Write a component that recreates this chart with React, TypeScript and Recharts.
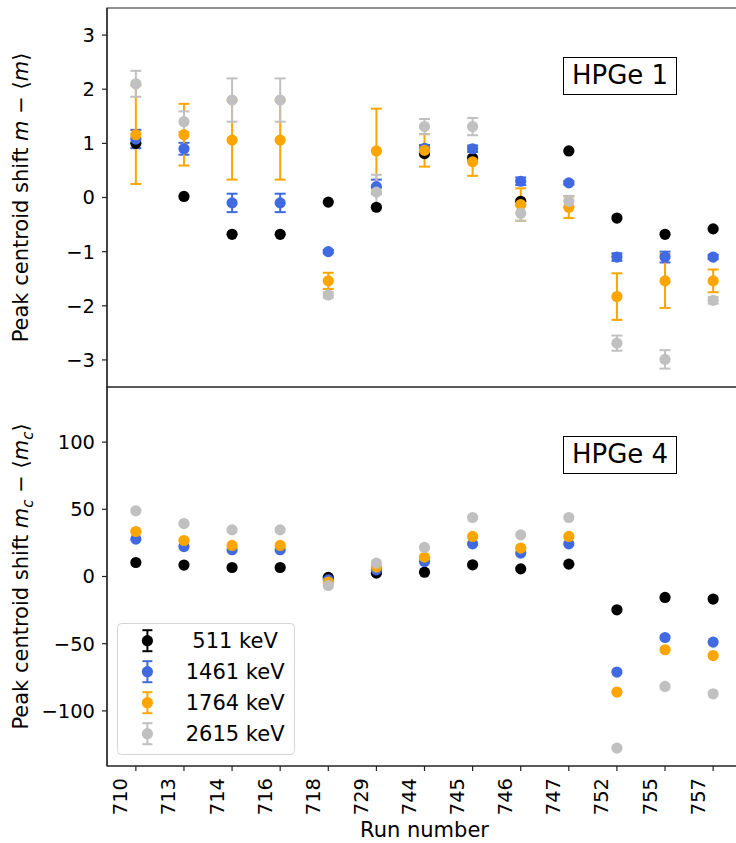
import React from "react";
import { ScatterChart, Scatter, XAxis, YAxis, ErrorBar, ReferenceArea, Legend } from "recharts";

// ---------- data ----------
const runs = ["710", "713", "714", "716", "718", "729", "744", "745", "746", "747", "752", "755", "757"];
const energyLabels = [" 511 keV", "1461 keV", "1764 keV", "2615 keV"];
const colors = ["#000000", "#4169e1", "#ffa500", "#c0c0c0"];

// HPGe 1 : peak centroid shift m - <m>
const hpge1_511 = [1.0, 0.02, -0.68, -0.68, -0.085, -0.18, 0.81, 0.73, -0.07, 0.86, -0.38, -0.68, -0.58];
const hpge1_1461 = [1.08, 0.9, -0.1, -0.1, -1.0, 0.2, 0.91, 0.9, 0.3, 0.27, -1.1, -1.1, -1.1];
const hpge1_1461_err = [0.17, 0.11, 0.17, 0.17, 0.03, 0.13, 0.06, 0.06, 0.07, 0.03, 0.07, 0.1, 0.04];
const hpge1_1764 = [1.16, 1.16, 1.06, 1.06, -1.54, 0.86, 0.87, 0.66, -0.13, -0.18, -1.83, -1.54, -1.54];
const hpge1_1764_err = [0.91, 0.57, 0.73, 0.73, 0.15, 0.78, 0.3, 0.26, 0.3, 0.2, 0.43, 0.5, 0.21];
const hpge1_2615 = [2.1, 1.4, 1.8, 1.8, -1.8, 0.1, 1.31, 1.31, -0.29, -0.07, -2.69, -2.99, -1.9];
const hpge1_2615_err = [0.24, 0.19, 0.4, 0.4, 0.05, 0.32, 0.14, 0.16, 0.14, 0.1, 0.14, 0.17, 0.06];

// HPGe 4 : peak centroid shift m_c - <m_c>
const hpge4_511 = [10.4, 8.5, 6.7, 6.7, -0.7, 2.5, 3.2, 8.7, 5.7, 9.2, -24.8, -15.6, -16.8];
const hpge4_1461 = [27.8, 22.3, 19.9, 19.9, -2.5, 5.0, 11.2, 24.3, 17.4, 24.3, -71.1, -45.4, -48.8];
const hpge4_1764 = [33.5, 26.8, 23.1, 23.1, -4.2, 7.0, 14.4, 29.8, 21.1, 29.8, -86.0, -54.5, -58.8];
const hpge4_2615 = [48.9, 39.4, 34.7, 34.7, -6.7, 10.0, 21.6, 43.9, 31.0, 43.9, -127.7, -81.8, -87.3];

const topTicks = [-3, -2, -1, 0, 1, 2, 3];
const bottomTicks = [-100, -50, 0, 50, 100];
const xTicks = runs.map((_, i) => i);

// ---------- helpers ----------
const FONT = "'DejaVu Sans', sans-serif";
const AXIS = "#222";

const build = (vals: number[], errs?: number[]) =>
  vals.map((y, i) => ({ x: i, y, err: errs ? errs[i] : 0 }));

const topSeries = [
  { data: build(hpge1_511), err: false },
  { data: build(hpge1_1461, hpge1_1461_err), err: true },
  { data: build(hpge1_1764, hpge1_1764_err), err: true },
  { data: build(hpge1_2615, hpge1_2615_err), err: true },
];
const bottomSeries = [
  { data: build(hpge4_511), err: false },
  { data: build(hpge4_1461), err: false },
  { data: build(hpge4_1764), err: false },
  { data: build(hpge4_2615), err: false },
];

const fmt = (v: number) => String(v).replace("-", "\u2212");

const dot = (color: string) => (p: any) =>
  p.cx == null || p.cy == null ? <g /> : <circle cx={p.cx} cy={p.cy} r={5.6} fill={color} />;
const noDot = () => <g />;

const XTick = (p: any) => {
  const { x, y, payload } = p;
  const bx = x - 8.5;
  return (
    <text
      x={bx}
      y={y}
      transform={`rotate(-90, ${bx}, ${y})`}
      textAnchor="end"
      fontSize={19.5}
      fontFamily={FONT}
      fill="#000"
    >
      {runs[payload.value]}
    </text>
  );
};

const yLabel = (sub: boolean, cy: number) => () => (
  <text
    x={28}
    y={cy}
    transform={`rotate(-90, 28, ${cy})`}
    textAnchor="middle"
    fontSize={21}
    fontFamily={FONT}
    fill="#000"
  >
    <tspan>Peak centroid shift </tspan>
    <tspan fontStyle="italic">m</tspan>
    {sub ? (
      <tspan fontStyle="italic" fontSize={15} dy={5}>c</tspan>
    ) : null}
    <tspan dy={sub ? -5 : 0}>{" \u2212 \u27e8"}</tspan>
    <tspan fontStyle="italic">m</tspan>
    {sub ? (
      <tspan fontStyle="italic" fontSize={15} dy={5}>c</tspan>
    ) : null}
    <tspan dy={sub ? -5 : 0}>{"\u27e9"}</tspan>
  </text>
);

const xLabel = () => (
  <text x={424.5} y={451} textAnchor="middle" fontSize={21} fontFamily={FONT} fill="#000">
    Run number
  </text>
);

const renderLegend = () => (
  <svg width={179} height={133} style={{ display: "block" }}>
    <rect x={0.5} y={0.5} width={177} height={131} rx={4} ry={4} fill="rgba(255,255,255,0.8)" stroke="#d4d4d4" strokeWidth={1} />
    {energyLabels.map((lab, i) => {
      const cy = 17.7 + i * 31;
      const c = colors[i];
      return (
        <g key={lab}>
          <line x1={30.4} x2={30.4} y1={cy - 10.5} y2={cy + 10.5} stroke={c} strokeWidth={2} />
          <line x1={25.4} x2={35.4} y1={cy - 10.5} y2={cy - 10.5} stroke={c} strokeWidth={2} />
          <line x1={25.4} x2={35.4} y1={cy + 10.5} y2={cy + 10.5} stroke={c} strokeWidth={2} />
          <circle cx={30.4} cy={cy} r={5.6} fill={c} />
          <text x={68.7} y={cy + 7.6} fontSize={21} fontFamily={FONT} fill="#000" style={{ whiteSpace: "pre" }} xmlSpace="preserve">
            {lab}
          </text>
        </g>
      );
    })}
  </svg>
);

const boxStyle = (top: number): React.CSSProperties => ({
  position: "absolute",
  left: 563,
  top,
  width: 114,
  height: 38,
  boxSizing: "border-box",
  border: "1.5px solid #000",
  background: "#fff",
  fontFamily: FONT,
  fontSize: 26,
  lineHeight: "35px",
  textAlign: "center",
  color: "#000",
});

export default function App() {
  const W = 742;
  return (
    <div style={{ position: "fixed", left: 0, top: 0, width: 736, height: 843, overflow: "hidden", background: "#fff" }}>
      {/* Top panel: HPGe 1 */}
      <div style={{ position: "absolute", left: 0, top: 0 }}>
        <ScatterChart width={W} height={388} margin={{ top: 8, right: 0, bottom: 1, left: 0 }}>
          <XAxis type="number" dataKey="x" domain={[-0.6, 12.6]} ticks={xTicks} allowDataOverflow hide />
          <YAxis
            type="number"
            dataKey="y"
            domain={[-3.5, 3.5]}
            ticks={topTicks}
            allowDataOverflow
            width={107}
            tickSize={5}
            tickMargin={7}
            interval={0}
            tickFormatter={fmt}
            tick={{ fontSize: 19.5, fontFamily: FONT, fill: "#000" }}
            axisLine={{ stroke: AXIS, strokeWidth: 1.2 }}
            tickLine={{ stroke: AXIS, strokeWidth: 1.2 }}
            label={yLabel(false, 197.5)}
          />
          <ReferenceArea x1={-0.6} x2={12.6} y1={-3.5} y2={3.5} fill="none" stroke={AXIS} strokeWidth={1.2} ifOverflow="visible" />
          {topSeries.flatMap((s, i) => [
            s.err ? (
              <Scatter key={`e${i}`} data={s.data} fill={colors[i]} shape={noDot} legendType="none" isAnimationActive={false}>
                <ErrorBar dataKey="err" direction="y" width={5.5} strokeWidth={2} stroke={colors[i]} />
              </Scatter>
            ) : null,
            <Scatter key={`d${i}`} name={energyLabels[i]} data={s.data} fill={colors[i]} shape={dot(colors[i])} isAnimationActive={false} />,
          ])}
        </ScatterChart>
      </div>

      {/* Bottom panel: HPGe 4 */}
      <div style={{ position: "absolute", left: 0, top: 386 }}>
        <ScatterChart width={W} height={457} margin={{ top: 1, right: 0, bottom: 0, left: 0 }}>
          <XAxis
            type="number"
            dataKey="x"
            domain={[-0.6, 12.6]}
            ticks={xTicks}
            interval={0}
            allowDataOverflow
            height={77}
            tickSize={5}
            tickMargin={7}
            tick={<XTick />}
            axisLine={{ stroke: AXIS, strokeWidth: 1.2 }}
            tickLine={{ stroke: AXIS, strokeWidth: 1.2 }}
            label={xLabel}
          />
          <YAxis
            type="number"
            dataKey="y"
            domain={[-141, 141]}
            ticks={bottomTicks}
            allowDataOverflow
            width={107}
            tickSize={5}
            tickMargin={7}
            interval={0}
            tickFormatter={fmt}
            tick={{ fontSize: 19.5, fontFamily: FONT, fill: "#000" }}
            axisLine={{ stroke: AXIS, strokeWidth: 1.2 }}
            tickLine={{ stroke: AXIS, strokeWidth: 1.2 }}
            label={yLabel(true, 190.5)}
          />
          <ReferenceArea x1={-0.6} x2={12.6} y1={-141} y2={141} fill="none" stroke={AXIS} strokeWidth={1.2} ifOverflow="visible" />
          {bottomSeries.map((s, i) => (
            <Scatter key={i} name={energyLabels[i]} data={s.data} fill={colors[i]} shape={dot(colors[i])} isAnimationActive={false} />
          ))}
          <Legend
            layout="horizontal"
            verticalAlign="middle"
            align="center"
            content={renderLegend}
            wrapperStyle={{ position: "absolute", left: 117, top: 623.3 - 386, width: 179, height: 133 }}
          />
        </ScatterChart>
      </div>

      <div style={boxStyle(57)}>HPGe 1</div>
      <div style={boxStyle(436)}>HPGe 4</div>
    </div>
  );
}
